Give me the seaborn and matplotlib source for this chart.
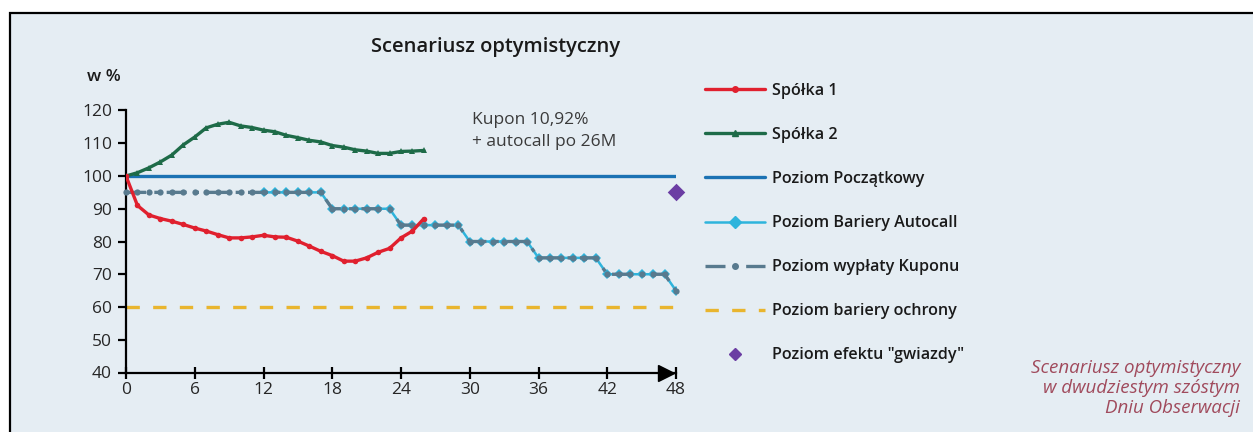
import numpy as np
import pandas as pd
import matplotlib.pyplot as plt
import seaborn as sns
from matplotlib.patches import Rectangle
from matplotlib.lines import Line2D

# dane (miesiące / poziom w %)
months_spolki = list(range(0, 27))
spolka_1 = [100, 91, 88.1, 87, 86.2, 85.2, 84.1, 83.2, 82.1, 81.1, 81.1, 81.4, 81.9,
            81.4, 81.3, 80.1, 78.6, 77, 75.7, 74, 74, 75, 76.7, 77.9, 81.1, 83.2, 87]
spolka_2 = [100, 101, 102.5, 104.3, 106.4, 109.5, 111.9, 114.7, 115.8, 116.4, 115.3,
            114.8, 114, 113.5, 112.4, 111.7, 110.9, 110.4, 109.3, 108.8, 108, 107.6,
            106.9, 106.9, 107.5, 107.6, 107.8]

months_kupon = list(range(0, 49))
kupon = [95] * 18 + [90] * 6 + [85] * 6 + [80] * 6 + [75] * 6 + [70] * 6 + [65]
months_autocall = list(range(12, 49))
autocall = kupon[12:]

poziom_poczatkowy = [100, 100]
bariera_ochrony = [60, 60]
okres = [0, 48]
gwiazda_x = [48]
gwiazda_y = [95]

x_ticks = list(range(0, 49, 6))
y_ticks = list(range(40, 121, 10))

labels = ['Spółka 1', 'Spółka 2', 'Poziom Początkowy', 'Poziom Bariery Autocall',
          'Poziom wypłaty Kuponu', 'Poziom bariery ochrony', 'Poziom efektu "gwiazdy"']

c_red = '#e0202e'
c_green = '#1e6b48'
c_blue = '#1b72b3'
c_cyan = '#2eb4dc'
c_grey = '#587a8e'
c_yellow = '#e9b52e'
c_purple = '#6b3da3'
bg = '#e5edf3'

sns.set_theme(style='white')
plt.rcParams['font.family'] = ['Open Sans', 'DejaVu Sans']

fig = plt.figure(figsize=(12.53, 4.32), dpi=100, facecolor='white')
fig.patches.append(Rectangle((10 / 1253, -0.2), 1.2, (432 - 13) / 432 + 0.2,
                             transform=fig.transFigure, facecolor=bg,
                             edgecolor='black', lw=1.6, zorder=-10))

ax = fig.add_axes([126 / 1253, (432 - 372.5) / 432, 550 / 1253, 262 / 432])
ax.set_facecolor('none')

coupon_ls = (0, (6, 2.5, 1.2, 2.5))

sns.lineplot(x=okres, y=bariera_ochrony, ax=ax, color=c_yellow, lw=2.4,
             linestyle=(0, (4, 4)), zorder=2)
sns.lineplot(x=okres, y=poziom_poczatkowy, ax=ax, color=c_blue, lw=2.4, zorder=3)
sns.lineplot(x=months_autocall, y=autocall, ax=ax, color=c_cyan, lw=1.8,
             marker='D', markersize=5.5, markeredgewidth=0, zorder=4)
sns.lineplot(x=months_kupon, y=kupon, ax=ax, color=c_grey, lw=2.4,
             linestyle=coupon_ls, marker='o', markersize=4.5, markeredgewidth=0,
             zorder=5, clip_on=False)
sns.lineplot(x=months_spolki, y=spolka_2, ax=ax, color=c_green, lw=2.4,
             marker='^', markersize=4, markeredgewidth=0, zorder=6)
sns.lineplot(x=months_spolki, y=spolka_1, ax=ax, color=c_red, lw=2.4,
             marker='o', markersize=4, markeredgewidth=0, zorder=7)
sns.scatterplot(x=gwiazda_x, y=gwiazda_y, ax=ax, color=c_purple, marker='D', s=80,
                linewidth=0, zorder=8, clip_on=False)

ax.set_xlim(0, 48)
ax.set_ylim(40, 120)
ax.set_xticks(x_ticks)
ax.set_yticks(y_ticks)
ax.set_xlabel('')
ax.set_ylabel('')
for s in ['top', 'right']:
    ax.spines[s].set_visible(False)
for s in ['left', 'bottom']:
    ax.spines[s].set_color('black')
    ax.spines[s].set_linewidth(1.6)
ax.tick_params(axis='y', direction='out', length=6, width=1.6, color='black',
               labelsize=12.5, pad=4, left=True)
ax.tick_params(axis='x', direction='inout', length=9, width=1.6, color='black',
               labelsize=12.5, pad=2, bottom=True)
# strzałka na końcu osi czasu
ax.plot(0.982, 0, marker='>', color='black', markersize=11,
        transform=ax.transAxes, clip_on=False, zorder=9)

fig.text(496 / 1253, 1 - 47 / 432, 'Scenariusz optymistyczny', ha='center',
         va='center', fontsize=14.5, color='#1a1a1a', fontweight='semibold')
fig.text(104 / 1253, 1 - 77 / 432, 'w %', ha='center', va='center', fontsize=12.5,
         color='#1a1a1a', fontweight='semibold')
fig.text(472 / 1253, 1 - 131 / 432, 'Kupon 10,92%\n+ autocall po 26M',
         ha='left', va='center', fontsize=12.5, color='#3a3a3a', linespacing=1.5)

handles = [
    Line2D([], [], color=c_red, lw=2.4, marker='o', markersize=4),
    Line2D([], [], color=c_green, lw=2.4, marker='^', markersize=4),
    Line2D([], [], color=c_blue, lw=2.4),
    Line2D([], [], color=c_cyan, lw=1.8, marker='D', markersize=6),
    Line2D([], [], color=c_grey, lw=2.4, linestyle=coupon_ls, marker='o', markersize=4),
    Line2D([], [], color=c_yellow, lw=2.4, linestyle=(0, (4, 4))),
    Line2D([], [], color=c_purple, lw=0, marker='D', markersize=6),
]
leg = fig.legend(handles, labels, loc='upper left',
                 bbox_to_anchor=(697 / 1253, 1 - 75 / 432), frameon=False,
                 fontsize=11.6, handlelength=3.7, handletextpad=0.45,
                 labelspacing=1.74, borderpad=0)
for t in leg.get_texts():
    t.set_fontweight('semibold')
    t.set_color('#1a1a1a')

fig.text(1240 / 1253, 1 - 388 / 432,
         'Scenariusz optymistyczny\nw dwudziestym szóstym\nDniu Obserwacji',
         ha='right', va='center', fontsize=13.5, style='italic', color='#a04a5c',
         linespacing=1.15)

fig.savefig('out.png', dpi=100, facecolor='white')
